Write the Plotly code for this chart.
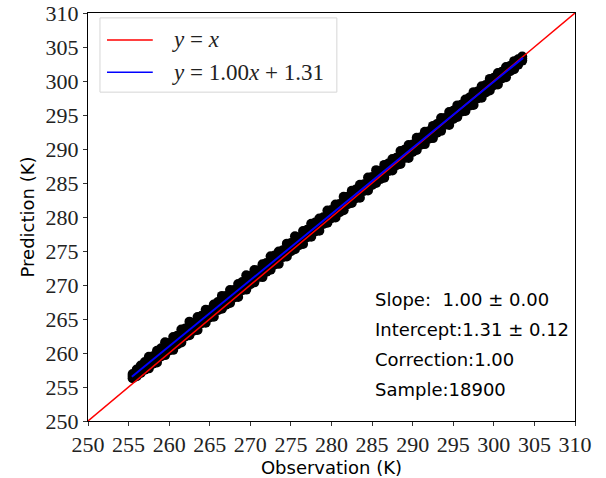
import plotly.graph_objects as go

# Observation values (K) along the scatter band (integer + .5 steps)
obs = [255.5, 256.5, 257.5, 258.5, 259.5, 260.5, 261.5, 262.5, 263.5, 264.5,
       265.5, 266.5, 267.5, 268.5, 269.5, 270.5, 271.5, 272.5, 273.5, 274.5,
       275.5, 276.5, 277.5, 278.5, 279.5, 280.5, 281.5, 282.5, 283.5, 284.5,
       285.5, 286.5, 287.5, 288.5, 289.5, 290.5, 291.5, 292.5, 293.5, 294.5,
       295.5, 296.5, 297.5, 298.5, 299.5, 300.5, 301.5, 302.5, 303.5]
pred_upper = [256.90, 258.17, 259.44, 260.32, 261.59, 262.36, 263.44, 264.61, 265.28, 266.35,
              267.13, 268.40, 269.27, 270.15, 271.42, 272.19, 273.06, 274.24, 274.91, 276.08,
              277.16, 277.93, 279.00, 279.77, 280.95, 281.82, 282.99, 283.87, 284.74, 285.81,
              286.89, 287.66, 288.53, 289.70, 290.58, 291.65, 292.52, 293.40, 294.57, 295.44,
              296.41, 297.29, 298.36, 299.23, 300.31, 301.18, 302.05, 302.92, 303.60]
pred_center = [256.60, 257.57, 258.54, 259.52, 260.49, 261.46, 262.44, 263.41, 264.38, 265.35,
               266.33, 267.30, 268.27, 269.25, 270.22, 271.19, 272.16, 273.14, 274.11, 275.08,
               276.06, 277.03, 278.00, 278.97, 279.95, 280.92, 281.89, 282.87, 283.84, 284.81,
               285.79, 286.76, 287.73, 288.70, 289.68, 290.65, 291.62, 292.60, 293.57, 294.54,
               295.51, 296.49, 297.46, 298.43, 299.41, 300.38, 301.35, 302.32, 303.30]
pred_lower = [256.30, 257.07, 257.74, 258.62, 259.69, 260.46, 261.54, 262.61, 263.38, 264.45,
              265.33, 266.50, 267.37, 268.25, 269.32, 270.39, 271.16, 272.24, 273.11, 274.18,
              275.26, 276.03, 277.10, 277.97, 279.15, 279.92, 280.99, 282.07, 282.84, 283.91,
              284.99, 285.76, 286.83, 287.80, 288.68, 289.85, 290.72, 291.60, 292.67, 293.54,
              294.71, 295.59, 296.46, 297.53, 298.61, 299.48, 300.55, 301.72, 303.00]

# Observation values at whole kelvins, with inner-band predictions
obs_half = [256.0, 257.0, 258.0, 259.0, 260.0, 261.0, 262.0, 263.0, 264.0, 265.0,
            266.0, 267.0, 268.0, 269.0, 270.0, 271.0, 272.0, 273.0, 274.0, 275.0,
            276.0, 277.0, 278.0, 279.0, 280.0, 281.0, 282.0, 283.0, 284.0, 285.0,
            286.0, 287.0, 288.0, 289.0, 290.0, 291.0, 292.0, 293.0, 294.0, 295.0,
            296.0, 297.0, 298.0, 299.0, 300.0, 301.0, 302.0, 303.0]
pred_half_upper = [257.58, 258.66, 259.53, 260.70, 261.48, 262.55, 263.62, 264.39, 265.47, 266.34,
                   267.51, 268.39, 269.26, 270.43, 271.31, 272.18, 273.25, 274.32, 275.10, 276.17,
                   277.04, 278.12, 279.19, 279.96, 281.03, 281.91, 282.98, 284.05, 284.83, 285.90,
                   286.77, 287.85, 288.72, 289.89, 290.66, 291.74, 292.61, 293.68, 294.56, 295.63,
                   296.50, 297.58, 298.45, 299.42, 300.49, 301.37, 302.24, 303.21]
pred_half_lower = [256.58, 257.56, 258.43, 259.50, 260.38, 261.25, 262.42, 263.29, 264.37, 265.24,
                   266.31, 267.09, 268.16, 269.23, 270.11, 271.18, 271.95, 273.02, 274.10, 274.97,
                   275.84, 277.02, 277.89, 278.96, 279.83, 280.71, 281.88, 282.75, 283.83, 284.70,
                   285.57, 286.75, 287.62, 288.69, 289.56, 290.64, 291.51, 292.38, 293.56, 294.43,
                   295.50, 296.38, 297.45, 298.32, 299.39, 300.37, 301.44, 302.41]

identity_x = [250, 310]
identity_y = [250, 310]
fit_x = [255.4, 303.6]
fit_y = [256.5, 303.4]

ticks = [250, 255, 260, 265, 270, 275, 280, 285, 290, 295, 300, 305, 310]

legend_labels = ["<i>y</i> = <i>x</i>", "<i>y</i> = 1.00<i>x</i> + 1.31"]
legend_colors = ["red", "blue"]

stats_lines = ["Slope:  1.00 ± 0.00", "Intercept:1.31 ± 0.12", "Correction:1.00", "Sample:18900"]

fig = go.Figure()
for xs, pv in ((obs, pred_upper), (obs, pred_center), (obs, pred_lower),
               (obs_half, pred_half_upper), (obs_half, pred_half_lower)):
    fig.add_trace(go.Scatter(x=xs, y=pv, mode="markers", showlegend=False,
                             marker=dict(color="black", size=10, line=dict(width=0))))
fig.add_trace(go.Scatter(x=identity_x, y=identity_y, mode="lines", showlegend=False,
                         line=dict(color="red", width=1.5)))
fig.add_trace(go.Scatter(x=fit_x, y=fit_y, mode="lines", showlegend=False,
                         line=dict(color="blue", width=2)))

serif = "Liberation Serif, DejaVu Serif, serif"
sans = "DejaVu Sans, sans-serif"
axis_common = dict(range=[250, 310], tickvals=ticks, ticks="outside", ticklen=4,
                   tickcolor="#333", showline=True, linecolor="black", linewidth=1,
                   mirror=True, showgrid=False, zeroline=False, automargin=False,
                   tickfont=dict(family=serif, size=22, color="#222"))
fig.update_xaxes(**axis_common,
                 title=dict(text="Observation (K)", font=dict(family=sans, size=18, color="black"),
                            standoff=4))
fig.update_yaxes(**axis_common,
                 title=dict(text="Prediction (K)", font=dict(family=sans, size=18, color="black"),
                            standoff=6))

# Manual legend box (matplotlib style)
fig.add_shape(type="rect", xref="paper", yref="paper", x0=0.0246, x1=0.511, y0=0.806, y1=0.988,
              line=dict(color="#d6d6d6", width=1), fillcolor="rgba(255,255,255,0.8)", layer="above")
legend_rows = [0.934, 0.855]
for lab, col, yy in zip(legend_labels, legend_colors, legend_rows):
    fig.add_shape(type="line", xref="paper", yref="paper", x0=0.039, x1=0.133, y0=yy, y1=yy,
                  line=dict(color=col, width=1.5), layer="above")
    fig.add_annotation(x=0.168, y=yy, xref="paper", yref="paper", xanchor="left", yanchor="middle",
                       showarrow=False, text=lab, font=dict(family=serif, size=23, color="#222"))

for i, t in enumerate(stats_lines):
    fig.add_annotation(x=0.585, y=0.297 - i * 0.073, xref="paper", yref="paper",
                       xanchor="left", yanchor="middle", showarrow=False, align="left",
                       text=t, font=dict(family=sans, size=18, color="black"))

fig.update_layout(
    width=606, height=478,
    margin=dict(l=88, r=31, t=13, b=57),
    plot_bgcolor="white", paper_bgcolor="white",
    showlegend=False,
)
fig.write_html("out.html")
